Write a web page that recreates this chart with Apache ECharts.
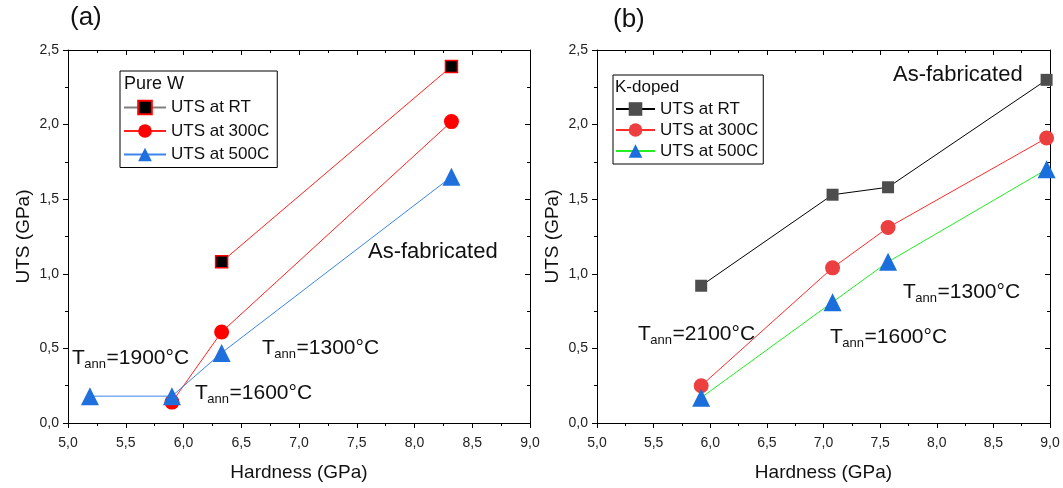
<!DOCTYPE html>
<html>
<head>
<meta charset="utf-8">
<script src="https://cdn.jsdelivr.net/npm/echarts@6/dist/echarts.min.js"></script>
<style>
html,body{margin:0;padding:0;background:#fff;}
#c{width:1063px;height:488px;}
</style>
</head>
<body>
<div id="c"></div>
<script>
// ---- data ----
const xTicks = [5.0, 5.5, 6.0, 6.5, 7.0, 7.5, 8.0, 8.5, 9.0];
const yTicks = [0.0, 0.5, 1.0, 1.5, 2.0, 2.5];

// (a) Pure W
const pureHardRT  = [6.33, 8.32];
const pureRT      = [1.08, 2.39];
const pureHard300 = [5.90, 6.33, 8.32];
const pure300     = [0.14, 0.61, 2.02];
const pureHard500 = [5.19, 5.90, 6.33, 8.32];
const pure500     = [0.18, 0.18, 0.47, 1.65];

// (b) K-doped
const kHard = [5.92, 7.08, 7.57, 8.97];
const kRT   = [0.92, 1.53, 1.58, 2.30];
const k300  = [0.25, 1.04, 1.31, 1.91];
const k500  = [0.17, 0.81, 1.08, 1.70];

const seriesNames = ['UTS at RT', 'UTS at 300C', 'UTS at 500C'];

// ---- chart ----
const FONT = 'Arial, "Liberation Sans", sans-serif';
const chart = echarts.init(document.getElementById('c'), null, {renderer: 'canvas'});
const pair = (xs, ys) => xs.map((x, i) => [x, ys[i]]);
const comma = v => v.toFixed(1).replace('.', ',');

const grids = [
  {left: 68, right: 533, top: 50, bottom: 65},
  {left: 597, right: 13, top: 50, bottom: 65}
];

function xAxes(gi) {
  const base = {
    type: 'value', gridIndex: gi, min: xTicks[0], max: xTicks[xTicks.length - 1],
    interval: xTicks[1] - xTicks[0], splitLine: {show: false},
    axisLine: {show: true, onZero: false, lineStyle: {color: '#000', width: 1}},
    minorTick: {show: true, splitNumber: 2, length: 3, lineStyle: {color: '#000'}},
    axisTick: {show: true, length: 5, lineStyle: {color: '#000'}}
  };
  return [
    Object.assign({}, base, {
      position: 'bottom',
      axisLabel: {show: true, formatter: comma, color: '#222', fontSize: 14, fontFamily: FONT, margin: 13},
      name: 'Hardness (GPa)', nameLocation: 'middle', nameGap: 40,
      nameTextStyle: {color: '#111', fontSize: 19, fontFamily: FONT}
    }),
    Object.assign({}, base, {
      position: 'top', axisLabel: {show: false},
      axisTick: {show: true, inside: true, length: 5, lineStyle: {color: '#000'}},
      minorTick: {show: true, splitNumber: 2, length: 3, lineStyle: {color: '#000'}}
    })
  ];
}
function yAxes(gi) {
  const base = {
    type: 'value', gridIndex: gi, min: yTicks[0], max: yTicks[yTicks.length - 1],
    interval: yTicks[1] - yTicks[0], splitLine: {show: false},
    axisLine: {show: true, onZero: false, lineStyle: {color: '#000', width: 1}},
    minorTick: {show: true, splitNumber: 2, length: 3, lineStyle: {color: '#000'}},
    axisTick: {show: true, length: 5, lineStyle: {color: '#000'}}
  };
  return [
    Object.assign({}, base, {
      position: 'left',
      axisLabel: {show: true, formatter: comma, color: '#222', fontSize: 14, fontFamily: FONT, margin: 9},
      name: 'UTS (GPa)', nameLocation: 'middle', nameGap: 35,
      nameTextStyle: {color: '#111', fontSize: 19, fontFamily: FONT}
    }),
    Object.assign({}, base, {
      position: 'right', axisLabel: {show: false},
      axisTick: {show: true, inside: true, length: 5, lineStyle: {color: '#000'}},
      minorTick: {show: true, splitNumber: 2, length: 3, lineStyle: {color: '#000'}}
    })
  ];
}

const series = [
  {name: seriesNames[0], type: 'line', xAxisIndex: 0, yAxisIndex: 0, data: pair(pureHardRT, pureRT),
   symbol: 'rect', symbolSize: 12, z: 3,
   itemStyle: {color: '#000', borderColor: '#ff0000', borderWidth: 1.5},
   lineStyle: {color: '#ff2020', width: 1}},
  {name: seriesNames[1], type: 'line', xAxisIndex: 0, yAxisIndex: 0, data: pair(pureHard300, pure300),
   symbol: 'circle', symbolSize: 15, z: 4,
   itemStyle: {color: '#ff0000'}, lineStyle: {color: '#ff2020', width: 1}},
  {name: seriesNames[2], type: 'line', xAxisIndex: 0, yAxisIndex: 0, data: pair(pureHard500, pure500),
   symbol: 'triangle', symbolSize: 18, z: 5,
   itemStyle: {color: '#1f6fdc'}, lineStyle: {color: '#3d85e8', width: 1}},

  {name: 'K ' + seriesNames[0], type: 'line', xAxisIndex: 2, yAxisIndex: 2, data: pair(kHard, kRT),
   symbol: 'rect', symbolSize: 12, z: 3,
   itemStyle: {color: '#4d4d4d'}, lineStyle: {color: '#000', width: 1}},
  {name: 'K ' + seriesNames[1], type: 'line', xAxisIndex: 2, yAxisIndex: 2, data: pair(kHard, k300),
   symbol: 'circle', symbolSize: 15, z: 4,
   itemStyle: {color: '#ec4040'}, lineStyle: {color: '#ff2a2a', width: 1}},
  {name: 'K ' + seriesNames[2], type: 'line', xAxisIndex: 2, yAxisIndex: 2, data: pair(kHard, k500),
   symbol: 'triangle', symbolSize: 18, z: 5,
   itemStyle: {color: '#1a6fdc'}, lineStyle: {color: '#22ee22', width: 1}}
];
series.forEach(s => { s.animation = false; s.emphasis = {disabled: true}; s.clip = false; });

const legendCommon = {
  orient: 'vertical', itemWidth: 42, itemHeight: 17, selectedMode: false,
  borderColor: '#000', borderWidth: 1, backgroundColor: '#fff', borderRadius: 0,
  textStyle: {color: '#111', fontSize: 17, fontFamily: FONT}, z: 10
};
const legends = [
  Object.assign({}, legendCommon, {
    left: 120, top: 71, itemGap: 6.5, padding: [28, 8, 4.5, 3],
    data: [
      {name: seriesNames[0], lineStyle: {color: '#808080'}},
      {name: seriesNames[1]},
      {name: seriesNames[2]}
    ]
  }),
  Object.assign({}, legendCommon, {
    left: 613, top: 75, itemGap: 4, itemWidth: 39, padding: [25.5, 5, 4.5, 2],
    formatter: n => n.replace(/^K /, ''),
    data: seriesNames.map(n => ({name: 'K ' + n}))
  })
];

// ---- text annotations (sub-scripted T_ann) ----
const mctx = document.createElement('canvas').getContext('2d');
function tw(text, size) { mctx.font = size + 'px ' + FONT; return mctx.measureText(text).width; }
const BIG = 21, SUB = 13;
function tann(x, y, rest) {
  const w1 = tw('T', BIG), w2 = tw('ann', SUB);
  return {
    type: 'group', x: x, y: y, z: 20, silent: true,
    children: [
      {type: 'text', x: 0, y: 0, style: {text: 'T', fontSize: BIG, fontFamily: FONT, fill: '#111', verticalAlign: 'middle'}},
      {type: 'text', x: w1 - 0.5, y: 6, style: {text: 'ann', fontSize: SUB, fontFamily: FONT, fill: '#111', verticalAlign: 'middle'}},
      {type: 'text', x: w1 + w2, y: 0, style: {text: rest, fontSize: BIG, fontFamily: FONT, fill: '#111', verticalAlign: 'middle'}}
    ]
  };
}
function label(x, y, text, size) {
  return {type: 'text', x: x, y: y, z: 20, silent: true,
    style: {text: text, fontSize: size, fontFamily: FONT, fill: '#111', verticalAlign: 'middle'}};
}

const graphic = [
  label(70, 18, '(a)', 26),
  label(613, 20, '(b)', 26),
  label(124, 84, 'Pure W', 18),
  label(615, 87, 'K-doped', 17),
  label(368, 252, 'As-fabricated', 22),
  tann(262, 348, '=1300°C'),
  tann(72, 358, '=1900°C'),
  tann(195, 393, '=1600°C'),
  label(893, 75, 'As-fabricated', 22),
  tann(903, 292, '=1300°C'),
  tann(638, 334, '=2100°C'),
  tann(830, 337, '=1600°C')
];

chart.setOption({
  animation: false,
  backgroundColor: '#fff',
  grid: grids,
  xAxis: xAxes(0).concat(xAxes(1)),
  yAxis: yAxes(0).concat(yAxes(1)),
  legend: legends,
  series: series,
  graphic: graphic
});
</script>
</body>
</html>
